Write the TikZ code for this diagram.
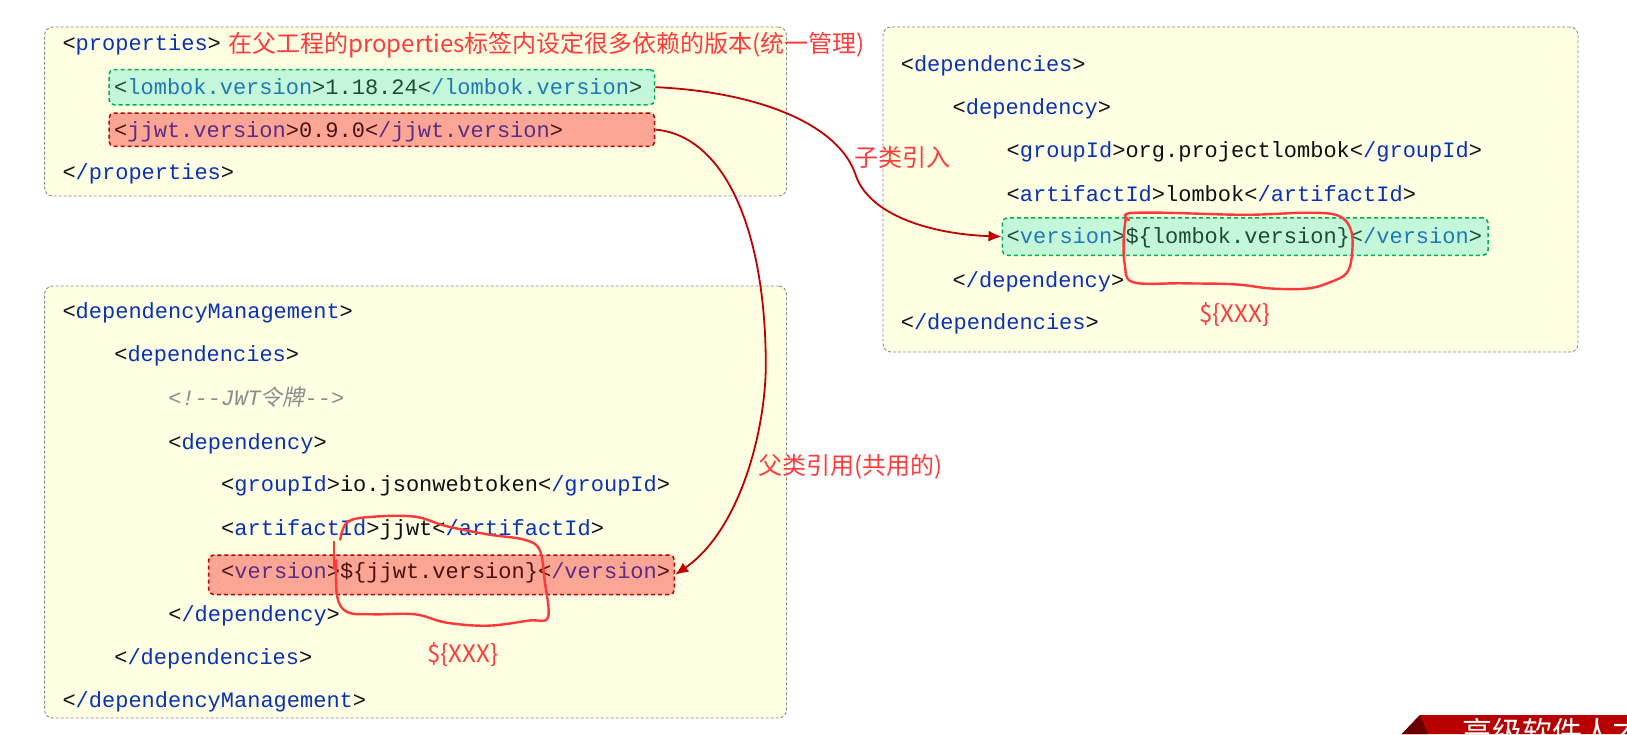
\documentclass[tikz,border=0pt]{standalone}
\usepackage{fontspec}
\setmonofont{Liberation Mono}
\newfontfamily\cjk{Noto Sans CJK SC}
\newfontfamily\cjkit[FakeSlant=0.2]{Noto Sans CJK SC}
\usetikzlibrary{arrows.meta}
\definecolor{boxbg}{HTML}{FEFEE3}
\definecolor{boxline}{HTML}{8A8A8A}
\definecolor{gfill}{HTML}{C4F7D9}
\definecolor{gline}{HTML}{00B050}
\definecolor{rfill}{HTML}{FBA594}
\definecolor{rline}{HTML}{C00000}
\definecolor{tagn}{HTML}{0A32B4}
\definecolor{brk}{HTML}{101010}
\definecolor{gtag}{HTML}{1F78B4}
\definecolor{gtxt}{HTML}{1E4A38}
\definecolor{rtag}{HTML}{5A2D86}
\definecolor{rtxt}{HTML}{4A1212}
\definecolor{cmt}{HTML}{8C8C8C}
\definecolor{annored}{HTML}{FF3B3B}
\definecolor{connred}{HTML}{C00000}
\definecolor{loopred}{HTML}{FF3838}
\definecolor{bandred}{HTML}{B80000}
\definecolor{banddark}{HTML}{6A0000}
\newcommand\xo[1]{{\color{brk}<}{\color{tagn}#1}{\color{brk}>}}
\newcommand\xc[1]{{\color{brk}<}{\color{tagn}/#1}{\color{brk}>}}
\tikzset{
  code/.style={font=\ttfamily\fontsize{22}{26}\selectfont, anchor=base west, inner sep=0pt, text=brk},
  gcode/.style={code, execute at begin node={\colorlet{tagn}{gtag}\colorlet{brk}{gtxt}\color{brk}}},
  rcode/.style={code, execute at begin node={\colorlet{tagn}{rtag}\colorlet{brk}{rtxt}\color{brk}}},
  panel/.style={draw=boxline, fill=boxbg, dashed, dash pattern=on 3pt off 2pt, line width=0.9pt, rounded corners=8pt, inner sep=0pt},
  ghl/.style={draw=gline, fill=gfill, dash pattern=on 4pt off 3pt, line width=1.5pt, rounded corners=5pt, inner sep=0pt},
  rhl/.style={draw=rline, fill=rfill, dash pattern=on 4pt off 3pt, line width=1.5pt, rounded corners=5pt, inner sep=0pt},
  anno/.style={font=\cjk\fontsize{24}{28}\selectfont, text=annored, inner sep=0pt},
  conn/.style={draw=connred, line width=1.8pt, -{Latex[length=13pt,width=11pt]}},
  loop/.style={draw=loopred, line width=2.4pt, line cap=round, line join=round}
}
\begin{document}
\begin{tikzpicture}[x=1pt,y=-1pt]
\useasboundingbox (0,0) rectangle (1627,734);
\clip (0,0) rectangle (1627,734);
\fill[white] (0,0) rectangle (1627,734);
% panels
\node[panel, minimum width=741.9pt, minimum height=169pt] (box1) at (415.55,111.5) {};
\node[panel, minimum width=695pt, minimum height=325pt] (box2) at (1230.5,189.5) {};
\node[panel, minimum width=741.9pt, minimum height=432pt] (box3) at (415.55,502) {};
% highlights
\node[ghl, minimum width=545.7pt, minimum height=35.3pt] (green1) at (381.85,87.15) {};
\node[rhl, minimum width=545.7pt, minimum height=33.3pt] (red1) at (381.85,129.65) {};
\node[ghl, minimum width=485.7pt, minimum height=37.4pt] (green2) at (1245.15,236.6) {};
\node[rhl, minimum width=465.8pt, minimum height=39.5pt] (red2) at (441.5,574.75) {};
% box 1
\node[code] (p1) at (62.3,50.6) {\xo{properties}};
\node[anno, anchor=base west] (a1) at (228.3,52) {在父工程的properties标签内设定很多依赖的版本(统一管理)};
\node[gcode] (p2) at (114,94.2) {\xo{lombok.version}1.18.24\xc{lombok.version}};
\node[rcode] (p3) at (114,137.7) {\xo{jjwt.version}0.9.0\xc{jjwt.version}};
\node[code] (p4) at (62.3,179.2) {\xc{properties}};
% box 2
\node[code] (d1) at (900.6,71.3) {\xo{dependencies}};
\node[code] (d2) at (952.5,114.9) {\xo{dependency}};
\node[code] (d3) at (1006.5,157.5) {\xo{groupId}org.projectlombok\xc{groupId}};
\node[code] (d4) at (1006.5,201) {\xo{artifactId}lombok\xc{artifactId}};
\node[gcode] (d5) at (1006.5,243.6) {\xo{version}\$\{lombok.version\}\xc{version}};
\node[code] (d6) at (952.5,287.2) {\xc{dependency}};
\node[code] (d7) at (900.6,329.7) {\xc{dependencies}};
% box 3
\node[code] (m1) at (62.3,318.3) {\xo{dependencyManagement}};
\node[code] (m2) at (114.1,361.9) {\xo{dependencies}};
\node[code] (m3) at (168.1,405.4) {\color{cmt}\itshape <!--JWT{\cjkit 令牌}-->};
\node[code] (m4) at (168.1,449) {\xo{dependency}};
\node[code] (m5) at (221,491.6) {\xo{groupId}io.jsonwebtoken\xc{groupId}};
\node[code] (m6) at (221,535.1) {\xo{artifactId}jjwt\xc{artifactId}};
\node[rcode] (m7) at (221,578.7) {\xo{version}\$\{jjwt.version\}\xc{version}};
\node[code] (m8) at (168.1,621.3) {\xc{dependency}};
\node[code] (m9) at (114.1,664.8) {\xc{dependencies}};
\node[code] (m10) at (62.3,707.4) {\xc{dependencyManagement}};
% annotations
\node[anno] (a2) at (902.7,157.7) {子类引入};
\node[anno] (a3) at (850.8,466.9) {父类引用(共用的)};
\node[anno] (x1) at (1234.7,314.4) {\$\{XXX\}};
\node[anno] (x2) at (462.8,654.7) {\$\{XXX\}};
% connectors
\draw[conn] (green1.east) .. controls (760,92) and (840,125) .. (856,176) .. controls (870,215) and (930,234) .. (green2.west);
\draw[conn] (red1.east) .. controls (720,135) and (765,220) .. (765.8,363) .. controls (766,430) and (740,530) .. (red2.east);
% freehand loops
\draw[loop] plot[smooth, tension=0.6] coordinates {(1128.9,220.0) (1126.8,213.7) (1162.1,212.7) (1245.1,214.8) (1307.4,212.7) (1338.5,215.8) (1351.0,230.3) (1352.0,254.2) (1346.8,272.9) (1330.2,282.2) (1307.4,288.5) (1271.1,288.5) (1234.7,284.3) (1182.9,283.3) (1133.1,282.2) (1124.8,264.6) (1123.7,238.6) (1125.8,217.9)};
\draw[loop] plot[smooth, tension=0.6] coordinates {(340.3,539.6) (347.6,521.9) (373.5,516.7) (415.0,516.7) (446.2,526.1) (487.7,534.4) (524.0,539.6) (539.6,549.9) (544.7,581.1) (547.9,617.4) (529.2,620.5) (487.7,625.7) (446.2,622.6) (415.0,614.3) (373.5,614.3) (347.6,612.2) (337.2,596.6) (336.2,560.3)};
\draw[loop, line width=1.6pt] (334.1,541.6) -- (334.1,568.6);
% banner
\fill[bandred] (1420,715) -- (1627,715) -- (1627,734) -- (1401.7,734) -- cycle;
\fill[banddark] (1401.7,734) -- (1420,715) -- (1428,734) -- cycle;
\node[anchor=north west, inner sep=0pt, text=white, font=\cjk\fontsize{30}{34}\selectfont] (bn) at (1462,718) {高级软件人才};
\end{tikzpicture}
\end{document}
